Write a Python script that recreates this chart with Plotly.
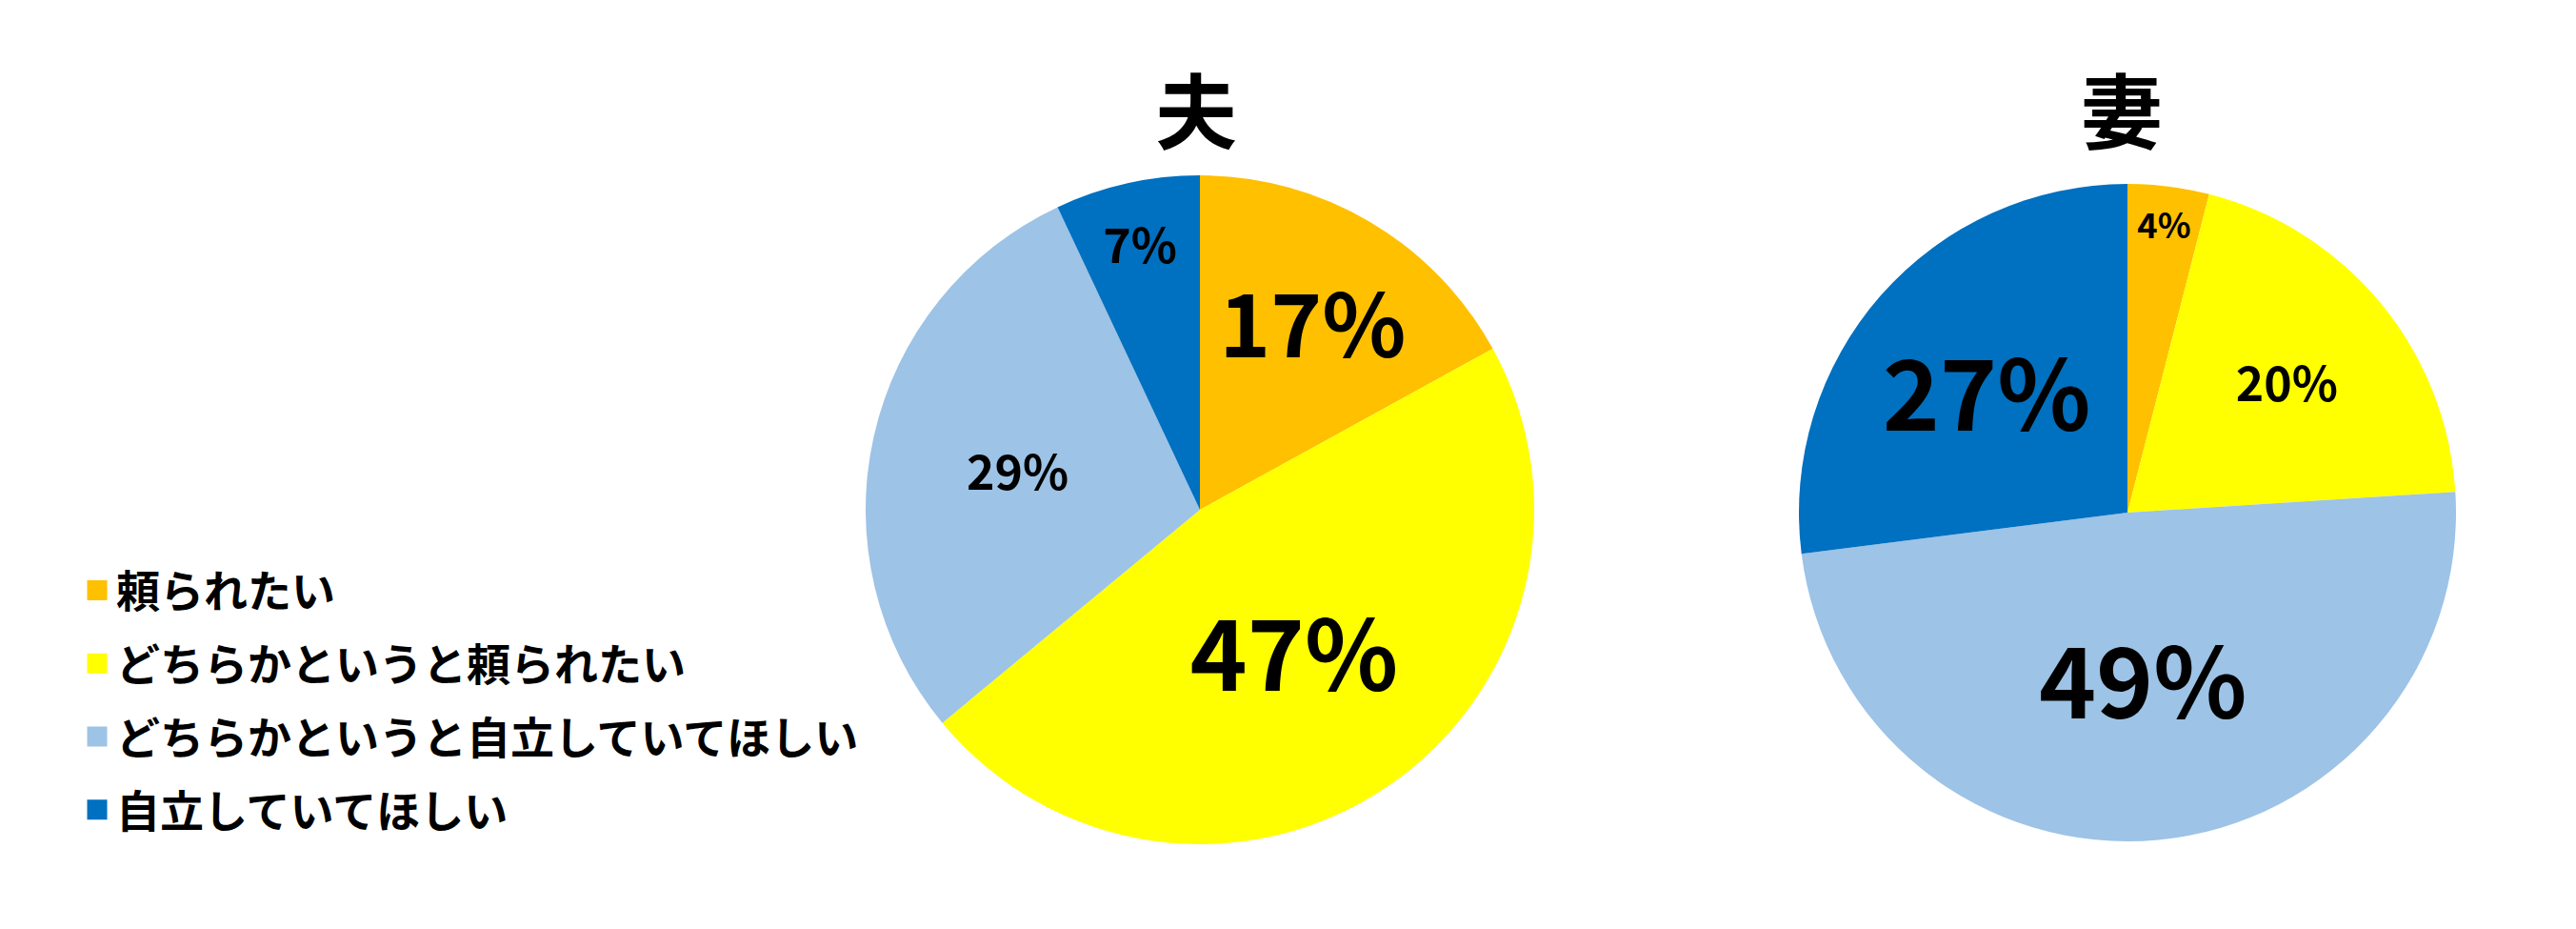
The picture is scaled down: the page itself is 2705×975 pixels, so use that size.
import plotly.graph_objects as go

categories = ["頼られたい", "どちらかというと頼られたい", "どちらかというと自立していてほしい", "自立していてほしい"]
colors = ["#FFC000", "#FFFF00", "#9DC3E6", "#0070C0"]
husband_values = [17, 47, 29, 7]
wife_values = [4, 20, 49, 27]
husband_label_sizes = [112, 102, 50, 50]
wife_label_sizes = [52, 50, 102, 102]
chart_titles = ["夫", "妻"]

FONT = "Noto Sans CJK JP"
W, H = 2705, 975

def dom(cx, cy, r):
    return dict(x=[(cx - r) / W, (cx + r) / W], y=[(H - cy - r) / H, (H - cy + r) / H])

fig = go.Figure()
for vals, sizes, d in [(husband_values, husband_label_sizes, dom(1252, 527, 351)),
                       (wife_values, wife_label_sizes, dom(2226, 530, 345))]:
    fig.add_trace(go.Pie(
        labels=categories, values=vals, sort=False, direction="clockwise", rotation=0,
        marker=dict(colors=colors, line=dict(width=0)),
        texttemplate="%{value}%", textposition="inside", insidetextorientation="horizontal",
        textfont=dict(family=FONT, size=sizes, color="black", weight="bold"),
        domain=d, showlegend=False, hoverinfo="label+value",
    ))

for cat, col in zip(categories, colors):
    fig.add_trace(go.Scatter(
        x=[None], y=[None], mode="markers", name=cat, legendgroup=cat,
        marker=dict(symbol="square", size=20, color=col, line=dict(color=col, width=5)),
    ))

for title, cx in zip(chart_titles, [1248, 2220]):
    fig.add_annotation(text=title, x=cx / W, y=(H - 104) / H, xref="paper", yref="paper",
                       showarrow=False, xanchor="center", yanchor="middle",
                       font=dict(family=FONT, size=86, color="black", weight="bold"))

fig.update_layout(
    width=W, height=H, margin=dict(l=0, r=0, t=0, b=0),
    paper_bgcolor="white", plot_bgcolor="white",
    xaxis=dict(visible=False), yaxis=dict(visible=False),
    legend=dict(x=74 / W, y=(H - 575) / H, xanchor="left", yanchor="top",
                traceorder="grouped", tracegroupgap=14, itemwidth=30, borderwidth=0,
                font=dict(family=FONT, size=46, color="black", weight="bold"),
                bgcolor="rgba(0,0,0,0)"),
)
fig.write_html("out.html")
